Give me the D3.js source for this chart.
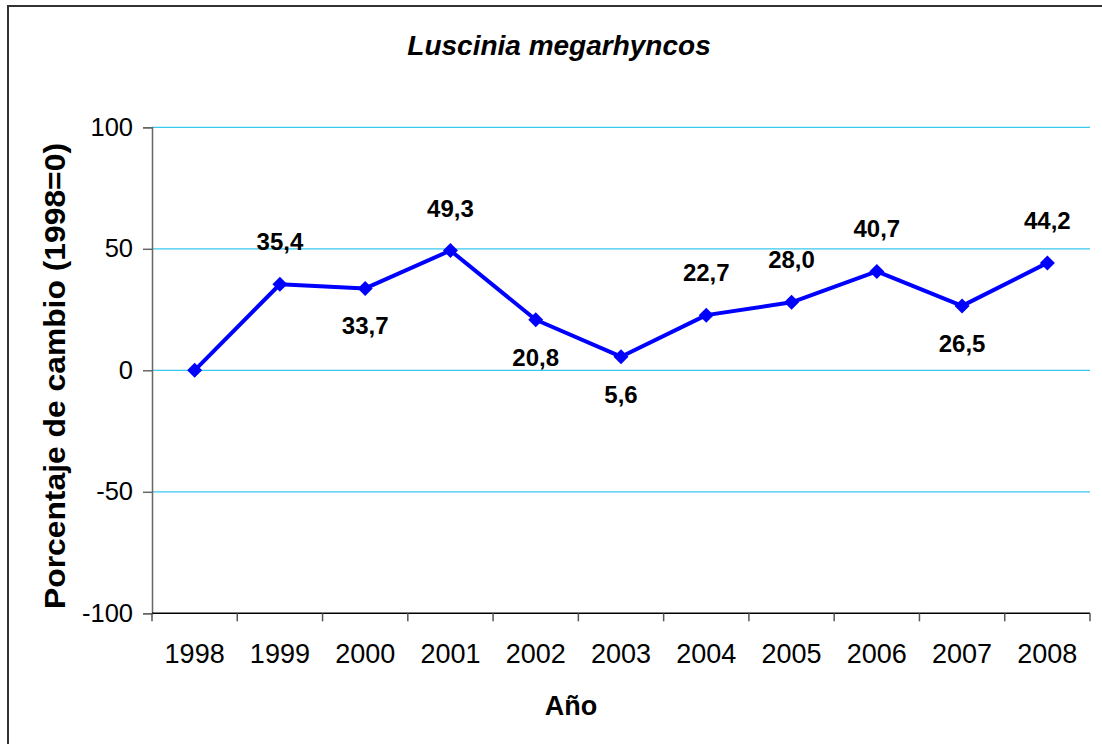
<!DOCTYPE html>
<html><head><meta charset="utf-8">
<script src="https://cdn.jsdelivr.net/npm/d3@7/dist/d3.min.js"></script>
<style>body{margin:0;background:#fff;}svg{display:block;font-family:Arial,"Liberation Sans",sans-serif;}</style>
</head><body>
<svg id="c" width="1102" height="744"></svg>
<script>
const years = ["1998","1999","2000","2001","2002","2003","2004","2005","2006","2007","2008"];
const values = [0, 35.4, 33.7, 49.3, 20.8, 5.6, 22.7, 28.0, 40.7, 26.5, 44.2];
const labelSide = [null, "above", "below", "above", "below", "below", "above", "above", "above", "below", "above"];
const yTicks = [-100, -50, 0, 50, 100];
const title = "Luscinia megarhyncos";
const xTitle = "Año";
const yTitle = "Porcentaje de cambio (1998=0)";

(function () {
const svg = d3.select("#c");
const pLeft = 152, pRight = 1090, pTop = 127.3, pBottom = 613.3;
const x = d3.scaleBand().domain(years).range([pLeft, pRight]).padding(0);
const y = d3.scaleLinear().domain([-100, 100]).range([pBottom, pTop]);

// frame
svg.append("rect").attr("x", 8).attr("y", 6).attr("width", 1110).attr("height", 760)
  .attr("fill", "none").attr("stroke", "#333").attr("stroke-width", 2);

// gridlines
svg.append("g").selectAll("line").data(yTicks.filter(d => d > -100)).join("line")
  .attr("x1", pLeft).attr("x2", pRight).attr("y1", d => y(d)).attr("y2", d => y(d))
  .attr("stroke", "#38C8F0").attr("stroke-width", 1.2);

// y axis
const ya = svg.append("g").attr("transform", `translate(${pLeft},0)`)
  .call(d3.axisLeft(y).tickValues(yTicks).tickSize(9).tickPadding(10).tickFormat(d => String(d)));
ya.select(".domain").attr("stroke", "#666").attr("stroke-width", 1.5);
ya.selectAll(".tick line").attr("stroke", "#666").attr("stroke-width", 1.5);
ya.selectAll("text").attr("font-size", 25.5).attr("fill", "#000").attr("font-family", "Arial, 'Liberation Sans', sans-serif");

// x axis line
svg.append("line").attr("x1", pLeft).attr("x2", pRight).attr("y1", pBottom).attr("y2", pBottom)
  .attr("stroke", "#000").attr("stroke-width", 1.5);
const bounds = years.map(d => x(d)).concat([x(years[years.length-1]) + x.bandwidth()]);
svg.append("g").selectAll("line").data(bounds).join("line")
  .attr("x1", d => d).attr("x2", d => d).attr("y1", pBottom).attr("y2", pBottom + 8)
  .attr("stroke", "#555").attr("stroke-width", 1.5);
svg.append("g").selectAll("text").data(years).join("text")
  .attr("x", d => x(d) + x.bandwidth()/2).attr("y", 663)
  .attr("text-anchor", "middle").attr("font-size", 27).text(d => d);

// line
const cx = d => x(d) + x.bandwidth()/2;
const pts = years.map((d, i) => ({year: d, v: values[i], side: labelSide[i]}));
svg.append("path").datum(pts)
  .attr("d", d3.line().x(d => cx(d.year)).y(d => y(d.v)))
  .attr("fill", "none").attr("stroke", "#0000FF").attr("stroke-width", 4).attr("stroke-linejoin", "round");
svg.append("g").selectAll("path").data(pts).join("path")
  .attr("transform", d => `translate(${cx(d.year)},${y(d.v)}) rotate(45)`)
  .attr("d", "M-5.3,-5.3H5.3V5.3H-5.3Z").attr("fill", "#0000FF");

// data labels
const fmt = v => v.toFixed(1).replace(".", ",");
svg.append("g").selectAll("text").data(pts.filter(d => d.side)).join("text")
  .attr("x", d => cx(d.year))
  .attr("y", d => d.side === "above" ? y(d.v) - 34 : y(d.v) + 46)
  .attr("text-anchor", "middle").attr("font-size", 24).attr("font-weight", "bold")
  .text(d => fmt(d.v));

// titles
svg.append("text").attr("x", 559).attr("y", 55).attr("text-anchor", "middle")
  .attr("font-size", 28).attr("font-weight", "bold").attr("font-style", "italic").text(title);
svg.append("text").attr("x", 571).attr("y", 715).attr("text-anchor", "middle")
  .attr("font-size", 27).attr("font-weight", "bold").text(xTitle);
svg.append("text").attr("transform", "translate(65,376) rotate(-90)").attr("text-anchor", "middle")
  .attr("font-size", 29).attr("font-weight", "bold")
  .attr("textLength", 466).attr("lengthAdjust", "spacingAndGlyphs").text(yTitle);
})();
</script>
</body></html>
